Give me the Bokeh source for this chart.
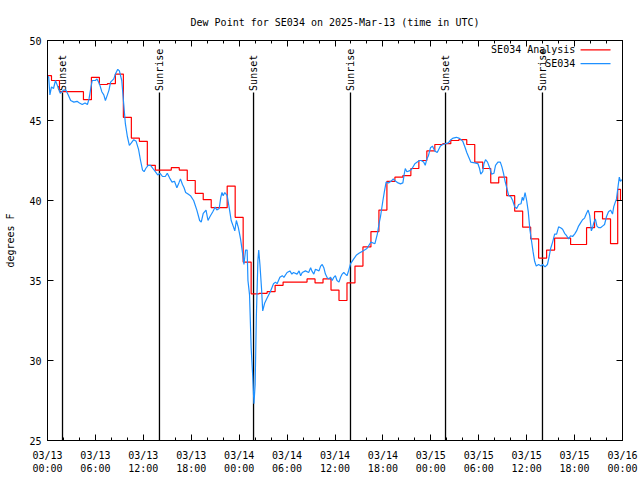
import numpy as np
from bokeh.plotting import figure
from bokeh.models import Range1d, FixedTicker, LinearAxis, ColumnDataSource
from bokeh.core.properties import value
from bokeh.embed import file_html
from bokeh.resources import INLINE

# ---------------- data ----------------
title_text = "Dew Point for SE034 on 2025-Mar-13 (time in UTC)"
y_label = "degrees F"
x_tick_hours = [0, 6, 12, 18, 24, 30, 36, 42, 48, 54, 60, 66, 72]
x_tick_labels = ["03/13\n00:00", "03/13\n06:00", "03/13\n12:00", "03/13\n18:00",
                 "03/14\n00:00", "03/14\n06:00", "03/14\n12:00", "03/14\n18:00",
                 "03/15\n00:00", "03/15\n06:00", "03/15\n12:00", "03/15\n18:00",
                 "03/16\n00:00"]
x_minor_hours = list(range(0, 73, 2))
y_ticks = [25, 30, 35, 40, 45, 50]

sun_hours = [1.88, 14.02, 25.8, 37.94, 49.84, 61.98]
sun_labels = ["Sunset", "Sunrise", "Sunset", "Sunrise", "Sunset", "Sunrise"]

series_names = ["SE034 Analysis", "SE034"]

# hourly analysis (step starts at hh:30 before each hour)
analysis_vals = [47.8, 47.5, 46.8, 46.8, 46.8, 46.3, 47.7, 47.25, 47.3, 47.9,
                 45.2, 43.9, 43.7, 42.2, 41.9, 41.9, 42.05, 41.9, 41.25, 40.45,
                 40.05, 39.55, 39.55, 40.9, 38.95, 36.15, 34.17, 34.2, 34.3, 34.7,
                 34.9, 34.9, 34.9, 35.1, 34.85, 35.1, 34.4, 33.75, 34.85, 35.9,
                 37.1, 38.06, 39.4, 41.2, 41.46, 41.56, 42.0, 42.5, 43.1, 43.5,
                 43.55, 43.75, 43.8, 43.5, 42.4, 42.0, 41.1, 41.46, 40.3, 39.33,
                 38.33, 37.6, 36.4, 36.9, 37.65, 37.65, 37.25, 37.25, 38.3, 39.3,
                 38.85, 37.3, 40.7, 40.0, 40.0]
analysis_hours = [k - 0.5 for k in range(72)] + [71.4, 71.75, 72.0]

obs_hours = [0.0, 0.15, 0.3, 0.5, 0.75, 1.0, 1.3, 1.6, 2.0, 2.3, 2.6, 2.9, 3.3, 3.7,
             4.0, 4.35, 4.7, 5.0, 5.2, 5.45, 5.6, 6.0, 6.2, 6.5, 6.8, 7.05, 7.25,
             7.5, 7.7, 7.9, 8.3, 8.5, 8.8, 9.0, 9.3, 9.55, 9.75, 10.0, 10.25, 10.5,
             10.8, 11.1, 11.4, 11.65, 11.9, 12.1, 12.3, 12.6, 12.9, 13.2, 13.5,
             13.8, 14.1, 14.4, 14.75, 15.0, 15.3, 15.6, 15.9, 16.2, 16.45, 16.65,
             16.9, 17.1, 17.3, 17.6, 17.9, 18.3, 18.7, 19.05, 19.25, 19.5, 19.85,
             20.1, 20.35, 20.7, 21.0, 21.2, 21.5, 21.7, 21.85, 22.0, 22.2, 22.5,
             22.8, 23.0, 23.25, 23.45, 23.65, 23.9, 24.17, 24.4, 24.6, 24.8, 25.0,
             25.1, 25.3, 25.5, 25.7, 25.85, 26.0, 26.15, 26.35, 26.45, 26.6, 26.8,
             26.95, 27.2, 27.5, 27.9, 28.3, 28.55, 28.75, 29.1, 29.4, 29.6, 30.0,
             30.35, 30.6, 30.8, 31.25, 31.5, 31.7, 31.9, 32.3, 32.7, 32.95, 33.1,
             33.35, 33.55, 34.0, 34.2, 34.4, 34.6, 34.8, 35.0, 35.2, 35.45, 35.65,
             35.85, 36.05, 36.25, 36.5, 36.7, 36.9, 37.1, 37.3, 37.5, 37.7, 37.95,
             38.35, 38.7, 39.0, 39.5, 40.0, 40.5, 41.0, 41.3, 41.5, 41.7, 42.0,
             42.2, 42.4, 42.7, 43.0, 43.3, 43.6, 43.9, 44.2, 44.5, 44.65, 44.8,
             45.0, 45.3, 45.6, 46.0, 46.3, 46.6, 46.8, 47.1, 47.3, 47.5, 47.7,
             47.96, 48.2, 48.5, 48.8, 49.0, 49.2, 49.5, 49.8, 50.2, 50.5, 50.8,
             51.2, 51.5, 51.8, 52.0, 52.3, 52.5, 52.75, 53.0, 53.5, 53.9, 54.1,
             54.25, 54.5, 54.65, 54.85, 55.1, 55.4, 55.6, 55.9, 56.1, 56.4, 56.7,
             56.9, 57.1, 57.3, 57.5, 57.75, 58.0, 58.25, 58.5, 58.75, 59.0, 59.3,
             59.45, 59.6, 59.8, 60.0, 60.2, 60.4, 60.6, 60.8, 61.0, 61.2, 61.5,
             61.8, 62.0, 62.3, 62.6, 62.8, 63.0, 63.25, 63.5, 63.75, 64.0, 64.25,
             64.5, 64.75, 65.0, 65.25, 65.5, 65.75, 66.0, 66.25, 66.5, 66.75, 67.0,
             67.25, 67.5, 67.7, 67.9, 68.1, 68.25, 68.4, 68.6, 68.8, 69.0, 69.25,
             69.5, 69.75, 70.0, 70.25, 70.5, 70.75, 70.9, 71.1, 71.25, 71.45, 71.6,
             71.75, 71.9]
obs_vals = [47.8, 47.7, 46.6, 47.1, 47.0, 47.5, 47.1, 46.7, 46.9, 46.9, 46.6, 46.25,
            46.15, 46.2, 46.1, 46.0, 46.1, 46.0, 46.35, 47.1, 47.5, 47.5, 47.6, 47.3,
            46.8, 46.6, 46.25, 46.6, 46.9, 47.4, 47.6, 47.9, 48.2, 48.1, 47.5, 46.0,
            44.8, 44.0, 43.45, 43.6, 43.8, 43.7, 43.2, 42.5, 41.9, 41.8, 42.0, 42.2,
            42.2, 42.0, 41.8, 41.6, 41.7, 41.5, 41.5, 41.7, 41.4, 41.15, 41.2, 40.8,
            41.1, 41.35, 41.0, 40.8, 40.5, 40.4, 40.3, 40.0, 39.4, 38.75, 38.65, 39.2,
            39.4, 38.75, 39.0, 39.3, 39.6, 39.4, 39.5, 40.2, 40.5, 40.3, 40.5, 40.3,
            39.4, 38.75, 38.4, 38.1, 38.75, 38.3, 37.6, 36.8, 36.0, 36.9, 36.9,
            35.0, 34.1, 30.8, 29.0, 27.3, 28.5, 32.7, 36.3, 36.9, 36.0, 34.5,
            33.1, 33.6, 33.9, 34.3, 34.8, 34.9, 34.8, 35.2, 35.3, 35.2, 35.5,
            35.6, 35.4, 35.5, 35.4, 35.6, 35.3, 35.5, 35.6, 35.5, 35.8, 35.6,
            35.4, 35.7, 35.6, 35.9, 36.0, 35.8, 35.4, 35.2, 35.1, 35.2, 35.0,
            35.2, 35.3, 35.0, 34.9, 35.2, 35.4, 35.5, 35.4, 35.3, 35.6, 36.05,
            36.35, 36.6, 36.7, 36.85, 37.0, 37.4, 37.3, 37.9, 38.5, 39.0, 40.0,
            40.6, 41.15, 41.1, 41.2, 41.35, 41.2, 41.1, 41.04, 41.1, 41.6, 42.0,
            41.8, 41.85, 41.95, 42.3, 42.4, 42.5, 42.5, 42.4, 42.2, 42.6, 42.8,
            43.3, 43.4, 43.1, 43.0, 43.2, 43.4, 43.5, 43.55, 43.6, 43.8, 43.9,
            43.95, 43.9, 43.8, 43.7, 43.3, 43.0, 42.7, 42.4, 42.35, 42.3, 42.0,
            41.65, 41.8, 42.3, 42.55, 42.4, 42.0, 41.65, 41.7, 42.2, 42.4, 42.4,
            42.1, 41.7, 41.2, 40.8, 40.3, 40.25, 40.0, 39.6, 39.5, 39.75, 39.8,
            40.2, 40.0, 40.5, 40.0, 39.3, 38.2, 37.5, 36.8, 36.2, 35.9, 36.0,
            35.9, 36.0, 35.85, 36.0, 36.45, 37.0, 37.4, 37.9, 37.9, 38.35, 38.3,
            38.2, 37.95, 37.8, 37.6, 37.8, 37.75, 37.9, 38.1, 38.4, 38.6, 38.8,
            38.9, 39.2, 39.4, 39.05, 38.1, 38.3, 38.6, 38.85, 38.4, 38.3, 38.3,
            38.4, 38.5, 39.0, 39.3, 39.4, 39.15, 39.6, 39.9, 40.1, 40.9, 41.46,
            41.2, 41.3]

# ---------------- style ----------------
FONT = "DejaVu Sans Mono"
RED = "#ff0000"
BLUE = "#1e90ff"

p = figure(width=640, height=480, output_backend="svg", toolbar_location=None,
           x_range=Range1d(0, 72), y_range=Range1d(25, 50),
           min_border_left=47, min_border_right=18, min_border_top=40,
           min_border_bottom=40)
p.title.text = title_text
p.title.align = "center"
p.title.text_font = FONT
p.title.text_font_size = "10px"
p.title.text_font_style = "normal"
p.title.text_color = "black"
p.title.standoff = 25
p.grid.visible = False
p.outline_line_color = "black"
p.background_fill_color = "white"
p.border_fill_color = "white"

xt = FixedTicker(ticks=x_tick_hours, minor_ticks=x_minor_hours)
yt = FixedTicker(ticks=y_ticks, minor_ticks=[])

bx = p.xaxis[0]
bx.ticker = xt
bx.major_label_overrides = {h: lab for h, lab in zip(x_tick_hours, x_tick_labels)}
ly = p.yaxis[0]
ly.ticker = yt
ly.axis_label = y_label
for ax in (bx, ly):
    ax.major_label_text_font = FONT
    ax.major_label_text_font_size = "10px"
    ax.major_label_text_color = "black"
    ax.axis_label_text_font = FONT
    ax.axis_label_text_font_size = "10px"
    ax.axis_label_text_font_style = "normal"
    ax.axis_label_text_color = "black"
    ax.major_tick_in = 6
    ax.major_tick_out = 0
    ax.minor_tick_in = 3
    ax.minor_tick_out = 0
    ax.axis_line_color = "black"
    ax.major_tick_line_color = "black"
    ax.minor_tick_line_color = "black"
bx.major_label_standoff = 9
ly.major_label_standoff = 6
ly.axis_label_standoff = 10

for loc, tk, ticks in (("above", xt, x_tick_hours), ("right", yt, y_ticks)):
    ax = LinearAxis(ticker=tk, major_tick_in=6, major_tick_out=0, minor_tick_in=3,
                    minor_tick_out=0, major_label_standoff=0,
                    axis_line_color="black",
                    major_label_overrides={t: "" for t in ticks})
    p.add_layout(ax, loc)

# sunrise / sunset markers
sun_src = ColumnDataSource(dict(x=sun_hours, y0=[25] * len(sun_hours),
                                y1=[46.75] * len(sun_hours), ty=[46.85] * len(sun_hours),
                                t=sun_labels))
p.segment(x0="x", y0="y0", x1="x", y1="y1", source=sun_src,
          line_color="black", line_width=1.3)
p.text(x="x", y="ty", text="t", source=sun_src, angle=np.pi / 2,
       text_align="left", text_baseline="middle", text_font=value(FONT),
       text_font_size="10px", text_color="black")

# series
p.step(analysis_hours, analysis_vals, mode="after", line_color=RED, line_width=1.2)
p.line(obs_hours, obs_vals, line_color=BLUE, line_width=1.2)

# legend (gnuplot style: text then sample)
leg_y = [49.42, 48.55]
p.text(x=[66.1, 66.1], y=leg_y, text=series_names, text_align="right",
       text_baseline="middle", text_font=value(FONT), text_font_size="10px",
       text_color="black")
p.segment(x0=[66.75, 66.75], y0=leg_y, x1=[70.5, 70.5], y1=leg_y,
          line_color=[RED, BLUE], line_width=1.2)

open("out.html", "w").write(file_html(p, INLINE))
